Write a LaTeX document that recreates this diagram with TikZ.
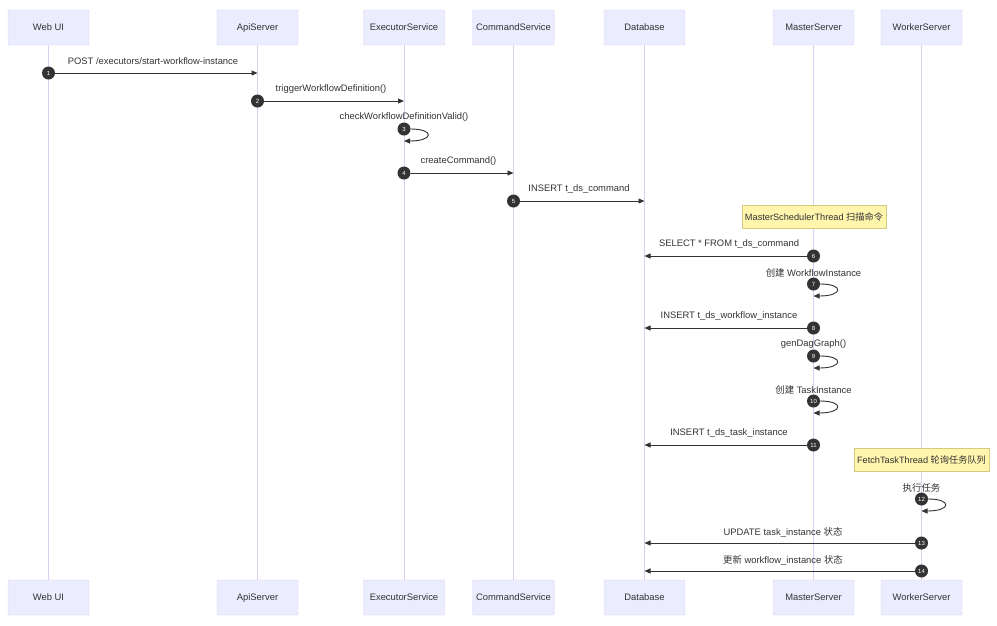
\documentclass[tikz,border=0pt]{standalone}
\usepackage{fontspec}
\setmainfont{Liberation Sans}
\newfontfamily\cjk{Noto Sans CJK SC}
\usetikzlibrary{arrows.meta}
\definecolor{txt}{HTML}{333333}
\definecolor{actorfill}{HTML}{ECECFF}
\definecolor{actorline}{HTML}{DACEF3}
\definecolor{notefill}{HTML}{FFF5AD}
\definecolor{noteline}{HTML}{D4CB80}
\tikzset{
  actor/.style={draw=actorline, fill=actorfill, rounded corners=1pt, minimum width=81pt, minimum height=35pt, text height=6.8pt, text depth=1.8pt, font=\fontsize{9.4}{10}\selectfont, text=txt},
  life/.style={draw=actorline, line width=1pt},
  note/.style={draw=noteline, fill=notefill, line width=0.8pt, minimum height=23pt, inner xsep=1.5pt, font=\fontsize{9.2}{10}\selectfont, text=txt},
  num/.style={circle, fill=txt, text=white, inner sep=0pt, minimum size=13pt, font=\fontsize{6}{6}\selectfont},
  msg/.style={draw=txt, line width=0.9pt, -{Triangle[length=6pt,width=5pt]}},
  lbl/.style={font=\fontsize{9.4}{10}\selectfont, text=txt, inner sep=1pt}
}
\begin{document}
\begin{tikzpicture}[x=1pt,y=-1pt]
\useasboundingbox (0,0) rectangle (997,625);
% actors
\node[actor] (wui) at (48.5,27.5) {Web UI};
\node[actor] (api) at (257.5,27.5) {ApiServer};
\node[actor] (exe) at (404,27.5) {ExecutorService};
\node[actor] (cmd) at (513.5,27.5) {CommandService};
\node[actor] (db) at (644.5,27.5) {Database};
\node[actor] (mst) at (813.5,27.5) {MasterServer};
\node[actor] (wkr) at (921.5,27.5) {WorkerServer};
\node[actor] (wuiB) at (48.5,597.5) {Web UI};
\node[actor] (apiB) at (257.5,597.5) {ApiServer};
\node[actor] (exeB) at (404,597.5) {ExecutorService};
\node[actor] (cmdB) at (513.5,597.5) {CommandService};
\node[actor] (dbB) at (644.5,597.5) {Database};
\node[actor] (mstB) at (813.5,597.5) {MasterServer};
\node[actor] (wkrB) at (921.5,597.5) {WorkerServer};
% lifelines
\draw[life] (wui) -- (wuiB);
\draw[life] (api) -- (apiB);
\draw[life] (exe) -- (exeB);
\draw[life] (cmd) -- (cmdB);
\draw[life] (db) -- (dbB);
\draw[life] (mst) -- (mstB);
\draw[life] (wkr) -- (wkrB);
% notes
\node[note, minimum width=144pt] (scan) at (814,216.5) {MasterSchedulerThread {\cjk 扫描命令}};
\node[note, minimum width=135pt] (fetch) at (921.5,460) {FetchTaskThread {\cjk 轮询任务队列}};
% 1
\node[num] (n1) at (48.5,73) {1};
\draw[msg] (n1) -- (n1 -| api);
\node[lbl] (l1) at (153,61.5) {POST /executors/start-workflow-instance};
% 2
\node[num] (n2) at (257.5,101) {2};
\draw[msg] (n2) -- (n2 -| exe);
\node[lbl] (l2) at (331,89.5) {triggerWorkflowDefinition()};
% 3
\node[num] (n3) at (404,129) {3};
\coordinate (r3) at (404,141);
\draw[msg] (n3.east) .. controls +(24,0) and +(30,0) .. (r3);
\node[lbl] (l3) at (404,117.5) {checkWorkflowDefinitionValid()};
% 4
\node[num] (n4) at (404,173) {4};
\draw[msg] (n4) -- (n4 -| cmd);
\node[lbl] (l4) at (458.5,161.5) {createCommand()};
% 5
\node[num] (n5) at (513.5,201) {5};
\draw[msg] (n5) -- (n5 -| db);
\node[lbl] (l5) at (579,189.5) {INSERT t\_ds\_command};
% 6
\node[num] (n6) at (813.5,256) {6};
\draw[msg] (n6) -- (n6 -| db);
\node[lbl] (l6) at (729,244.5) {SELECT * FROM t\_ds\_command};
% 7
\node[num] (n7) at (813.5,284) {7};
\coordinate (r7) at (813.5,296);
\draw[msg] (n7.east) .. controls +(24,0) and +(30,0) .. (r7);
\node[lbl] (l7) at (813.5,272.5) {{\cjk 创建} WorkflowInstance};
% 8
\node[num] (n8) at (813.5,328) {8};
\draw[msg] (n8) -- (n8 -| db);
\node[lbl] (l8) at (729,316.5) {INSERT t\_ds\_workflow\_instance};
% 9
\node[num] (n9) at (813.5,356) {9};
\coordinate (r9) at (813.5,368);
\draw[msg] (n9.east) .. controls +(24,0) and +(30,0) .. (r9);
\node[lbl] (l9) at (813.5,344.5) {genDagGraph()};
% 10
\node[num] (n10) at (813.5,401) {10};
\coordinate (r10) at (813.5,413);
\draw[msg] (n10.east) .. controls +(24,0) and +(30,0) .. (r10);
\node[lbl] (l10) at (813.5,389.5) {{\cjk 创建} TaskInstance};
% 11
\node[num] (n11) at (813.5,445) {11};
\draw[msg] (n11) -- (n11 -| db);
\node[lbl] (l11) at (729,433.5) {INSERT t\_ds\_task\_instance};
% 12
\node[num] (n12) at (921.5,499) {12};
\coordinate (r12) at (921.5,511);
\draw[msg] (n12.east) .. controls +(24,0) and +(30,0) .. (r12);
\node[lbl] (l12) at (921.5,488) {\cjk 执行任务};
% 13
\node[num] (n13) at (921.5,543) {13};
\draw[msg] (n13) -- (n13 -| db);
\node[lbl] (l13) at (783,532) {UPDATE task\_instance {\cjk 状态}};
% 14
\node[num] (n14) at (921.5,571) {14};
\draw[msg] (n14) -- (n14 -| db);
\node[lbl] (l14) at (783,560) {{\cjk 更新} workflow\_instance {\cjk 状态}};
\end{tikzpicture}
\end{document}
